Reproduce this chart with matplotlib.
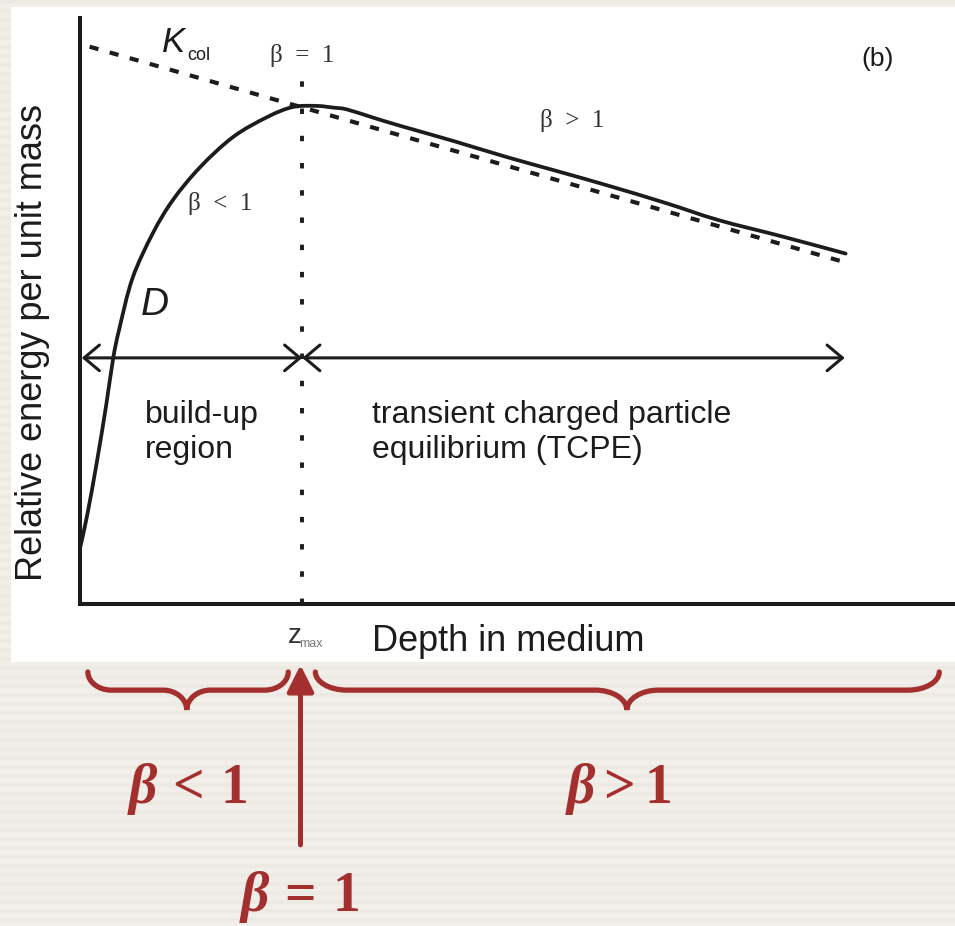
import numpy as np
import matplotlib
matplotlib.use("Agg")
import matplotlib.pyplot as plt
from matplotlib.patches import Rectangle, FancyArrowPatch, PathPatch
from matplotlib.path import Path

plt.rcParams['font.family'] = ['Liberation Sans', 'DejaVu Sans']
plt.rcParams['mathtext.fontset'] = 'custom'
plt.rcParams['mathtext.rm'] = 'Liberation Serif:bold'
plt.rcParams['mathtext.bf'] = 'Liberation Serif:bold'
plt.rcParams['mathtext.it'] = 'Liberation Serif:italic:bold'

# absorbed dose D versus depth (arbitrary units)
depth = [0.00, 0.08, 0.19, 0.30, 0.38, 0.45, 0.60, 0.83, 1.06, 1.37, 1.75,
         2.14, 2.43, 2.70, 2.90, 3.05, 3.35, 3.66, 4.27, 4.87, 5.47, 6.08,
         6.70, 7.30, 8.03, 8.75]
dose = [0.095, 0.150, 0.240, 0.340, 0.420, 0.470, 0.556, 0.632, 0.689, 0.745,
        0.797, 0.831, 0.848, 0.850, 0.847, 0.844, 0.830, 0.816, 0.790, 0.763,
        0.738, 0.712, 0.684, 0.655, 0.627, 0.598]

# collision kerma K_col (straight line)
kcol_depth = [0.11, 8.77]
kcol = [0.951, 0.582]

z_max = 2.54
arrow_level = 0.42
depth_end = 8.74

RED = '#a3302e'
INK = '#1c1c1c'

fig = plt.figure(figsize=(9.55, 9.26), dpi=100, facecolor='#eeebe5')

# faint horizontal stripes in the page background
rows = np.arange(926)
shade = np.where((rows % 9) < 4, 0.0, 1.0)[:, None, None]
base = np.array([237, 234, 228]) / 255.0
light = np.array([242, 239, 234]) / 255.0
stripes = base + shade * (light - base)
bg = fig.add_axes([0, 0, 1, 1], zorder=-5)
bg.imshow(stripes, aspect='auto', extent=[0, 1, 0, 1])
bg.axis('off')

# white panel behind the graph
fig.patches.append(Rectangle((11 / 955, 264 / 926), 944 / 955, 655 / 926,
                             transform=fig.transFigure, facecolor='white',
                             edgecolor='none', zorder=-4))

ax = fig.add_axes([80 / 955, 322 / 926, 875 / 955, 586 / 926])
ax.set_facecolor('none')
ax.set_xlim(0, 10)
ax.set_ylim(0, 1)
for side in ['top', 'right']:
    ax.spines[side].set_visible(False)
for side in ['left', 'bottom']:
    ax.spines[side].set_linewidth(2.9)
    ax.spines[side].set_color(INK)
ax.set_xticks([])
ax.set_yticks([])


def smooth_path(xs, ys):
    # Catmull-Rom spline through the points, written as cubic Bezier segments
    p = np.column_stack([xs, ys])
    pad = np.vstack([p[0], p, p[-1]])
    verts = [tuple(p[0])]
    codes = [Path.MOVETO]
    for i in range(1, len(pad) - 2):
        c1 = pad[i] + (pad[i + 1] - pad[i - 1]) / 6.0
        c2 = pad[i + 1] - (pad[i + 2] - pad[i]) / 6.0
        verts += [tuple(c1), tuple(c2), tuple(pad[i + 1])]
        codes += [Path.CURVE4] * 3
    return Path(verts, codes)


ax.plot(kcol_depth, kcol, color=INK, lw=3.0, linestyle=(0, (2.2, 2.8)),
        clip_on=False)
ax.add_patch(PathPatch(smooth_path(depth, dose), facecolor='none',
                       edgecolor=INK, lw=2.7, capstyle='round',
                       joinstyle='round', clip_on=False))
ax.plot([z_max, z_max], [0, 0.92], color=INK, lw=2.8,
        linestyle=(0, (1.4, 5.6)), clip_on=False)

for a, b in [(0.02, z_max), (z_max, depth_end)]:
    ax.add_patch(FancyArrowPatch((a, arrow_level), (b, arrow_level),
                                 arrowstyle='<->,head_length=0.5,head_width=0.42',
                                 mutation_scale=22, lw=2.2, color=INK,
                                 shrinkA=0, shrinkB=0, clip_on=False))

serif = 'Liberation Serif'
ax.text(0.94, 0.942, 'K', fontsize=25, style='italic', color=INK, va='baseline')
ax.text(1.23, 0.929, 'col', fontsize=13, color=INK, va='baseline')
ax.text(z_max, 0.925, 'β  =  1', fontsize=18, family=serif, color='#333333',
        ha='center', va='baseline')
ax.text(1.23, 0.672, 'β  <  1', fontsize=18, family=serif, color='#333333',
        va='baseline')
ax.text(5.26, 0.814, 'β  >  1', fontsize=18, family=serif, color='#333333',
        va='baseline')
ax.text(9.12, 0.918, '(b)', fontsize=19, color=INK, ha='center', va='baseline')
ax.text(0.69, 0.493, 'D', fontsize=28, style='italic', color=INK, va='baseline')

ax.text(0.74, 0.309, 'build-up', fontsize=23, color=INK, va='baseline')
ax.text(0.74, 0.249, 'region', fontsize=23, color=INK, va='baseline')
ax.text(3.34, 0.309, 'transient charged particle', fontsize=23, color=INK,
        va='baseline')
ax.text(3.34, 0.249, 'equilibrium (TCPE)', fontsize=23, color=INK,
        va='baseline')

ax.text(2.37, -0.066, 'z', fontsize=20, color='#333333', va='baseline',
        clip_on=False)
ax.text(2.51, -0.074, 'max', fontsize=9, color='#777777', va='baseline',
        clip_on=False)
ax.text(3.34, -0.081, 'Depth in medium', fontsize=26, color=INK, va='baseline',
        clip_on=False)
ax.text(-0.54, 0.447, 'Relative energy per unit mass', fontsize=26, color=INK,
        rotation=90, ha='center', va='center', clip_on=False)


def brace(x0, x1, xm, r, y_top=-0.116, y_bar=-0.147, y_tip=-0.181):
    ym = y_bar + 0.45 * (y_tip - y_bar)
    ye = y_top + 0.55 * (y_bar - y_top)
    verts = [(x0, y_top), (x0, ye), (x0 + 0.45 * r, y_bar), (x0 + r, y_bar),
             (xm - r, y_bar),
             (xm - 0.45 * r, y_bar), (xm, ym), (xm, y_tip),
             (xm, ym), (xm + 0.45 * r, y_bar), (xm + r, y_bar),
             (x1 - r, y_bar),
             (x1 - 0.45 * r, y_bar), (x1, ye), (x1, y_top)]
    codes = ([Path.MOVETO] + [Path.CURVE4] * 3 + [Path.LINETO]
             + [Path.CURVE4] * 6 + [Path.LINETO] + [Path.CURVE4] * 3)
    ax.add_patch(PathPatch(Path(verts, codes), facecolor='none', edgecolor=RED,
                           lw=3.8, capstyle='round', clip_on=False))


brace(0.09, 2.38, 1.22, 0.27)
brace(2.69, 9.82, 6.25, 0.36)

ax.add_patch(FancyArrowPatch((2.52, -0.411), (2.52, -0.104),
                             arrowstyle='-|>,head_length=0.9,head_width=0.45',
                             mutation_scale=18, lw=3.6, color=RED,
                             shrinkA=0, shrinkB=0, clip_on=False))

ax.text(1.22, -0.34, r'$\beta\,{<}\,1$', fontsize=40, color=RED, ha='center',
        va='baseline', clip_on=False)
ax.text(6.15, -0.34, r'$\beta{>}1$', fontsize=40, color=RED, ha='center',
        va='baseline', clip_on=False)
ax.text(2.50, -0.524, r'$\beta\,{=}\,1$', fontsize=40, color=RED, ha='center',
        va='baseline', clip_on=False)

fig.savefig('out.png', dpi=100, facecolor=fig.get_facecolor())
